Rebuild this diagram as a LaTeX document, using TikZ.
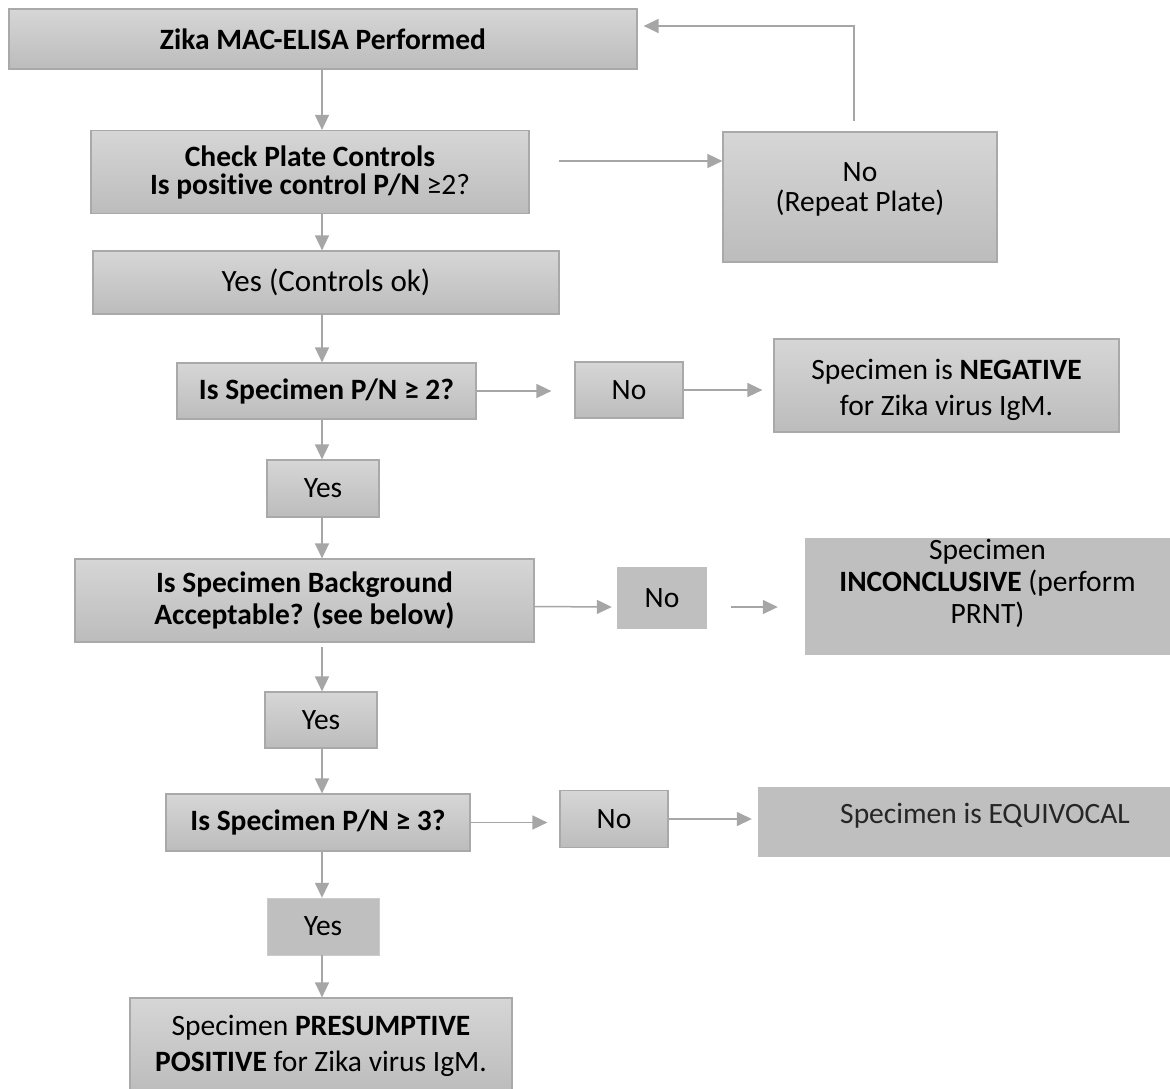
\documentclass[tikz,border=0pt]{standalone}
\usepackage{fontspec}
\setmainfont{Carlito}[Ligatures=NoCommon]
\usetikzlibrary{arrows.meta}

\definecolor{boxtop}{HTML}{D6D6D6}
\definecolor{boxbot}{HTML}{BCBCBC}
\definecolor{boxline}{HTML}{A9A9A9}
\definecolor{flatgray}{HTML}{BFBFBF}
\definecolor{linkgray}{HTML}{A6A6A6}

\begin{document}
\begin{tikzpicture}[x=1pt, y=-1pt,
    font=\fontsize{29.5}{30}\selectfont,
    gbox/.style={draw=boxline, line width=1.2pt, top color=boxtop, bottom color=boxbot, inner sep=0pt, align=center},
    fbox/.style={fill=flatgray, inner sep=0pt, align=center},
    plain/.style={inner sep=0pt, align=center},
    flow/.style={draw=linkgray, line width=1.5pt, -{Triangle[length=15pt, width=14pt]}}]
    \useasboundingbox (0,0) rectangle (1170,1088);
    \coordinate (col) at (322,0);

    % main column
    \node[gbox, minimum width=628pt, minimum height=60pt] (A1) at (323,39) {\textbf{Zika MAC-ELISA Performed}};
    \node[gbox, minimum width=438pt, minimum height=83pt] (A2) at (310,172) {\textbf{Check Plate Controls}\\[-2pt]\textbf{Is positive control P/N} ≥2?};
    \node[gbox, minimum width=466pt, minimum height=63pt, font=\fontsize{31}{32}\selectfont] (okay) at (326,282.5) {Yes (Controls ok)};
    \node[gbox, minimum width=299pt, minimum height=56pt] (Q1) at (326.5,391) {\textbf{Is Specimen P/N ≥ 2?}};
    \node[gbox, minimum width=112pt, minimum height=57pt] (yes1) at (323,488.5) {Yes};
    \node[gbox, minimum width=459pt, minimum height=83pt] (Q2) at (304.5,600.5) {\textbf{Is Specimen Background}\\[2pt]\textbf{Acceptable? (see below)}};
    \node[gbox, minimum width=112pt, minimum height=56pt] (yes2) at (321,720) {Yes};
    \node[gbox, minimum width=304pt, minimum height=57pt] (Q3) at (318,822.5) {\textbf{Is Specimen P/N ≥ 3?}};
    \node[fbox, draw=boxline!60, minimum width=112pt, minimum height=57pt] (yes3) at (323,926.5) {Yes};
    \node[gbox, minimum width=382pt, minimum height=94pt] (final) at (321,1045) {};
    \node[plain] (finaltext) at (321,1046) {Specimen \textbf{PRESUMPTIVE}\\[6pt]\textbf{POSITIVE} for Zika virus IgM.};

    % side boxes
    \node[gbox, minimum width=274pt, minimum height=130pt] (repeatbox) at (860,197) {};
    \node[plain] (repeattext) at (860,189) {No\\(Repeat Plate)};
    \node[gbox, minimum width=108pt, minimum height=56pt] (no1) at (629,390) {No};
    \node[gbox, minimum width=345pt, minimum height=93pt] (neg) at (946.5,385.5) {};
    \node[plain] (negtext) at (946.5,390) {Specimen is \textbf{NEGATIVE}\\[6pt]for Zika virus IgM.};
    \node[fbox, minimum width=90pt, minimum height=62pt] (no2) at (662,598) {No};
    \node[fbox, minimum width=365pt, minimum height=117pt] (inc) at (987.5,596.5) {};
    \node[plain] (inctext) at (987.5,583) {Specimen\\[2pt]\textbf{INCONCLUSIVE} (perform\\[2pt]PRNT)};
    \node[gbox, minimum width=108pt, minimum height=57pt] (no3) at (614,819) {No};
    \node[fbox, minimum width=412pt, minimum height=70pt] (equiv) at (964,822) {};
    \node[plain, text=black!85] (equivtext) at (985,816) {Specimen is EQUIVOCAL};

    % down the column
    \draw[flow] (A1.south -| col) -- (A2.north -| col);
    \draw[flow] (A2.south -| col) -- (okay.north -| col);
    \draw[flow] (okay.south -| col) -- (Q1.north -| col);
    \draw[flow] (Q1.south -| col) -- (yes1.north -| col);
    \draw[flow] (yes1.south -| col) -- (Q2.north -| col);
    \draw[flow] ([yshift=-4pt]Q2.south -| col) -- (yes2.north -| col);
    \draw[flow] (yes2.south -| col) -- (Q3.north -| col);
    \draw[flow] (Q3.south -| col) -- (yes3.north -| col);
    \draw[flow] (yes3.south -| col) -- (final.north -| col);

    % side branches
    \draw[flow] ([xshift=29pt, yshift=11pt]A2.east) -- ([yshift=11pt]A2.east -| repeatbox.west);
    \draw[flow] ([xshift=-6pt, yshift=10pt]repeatbox.north) |- ([xshift=6pt, yshift=13pt]A1.east);
    \draw[flow] (Q1.east) -- ([xshift=-23pt]Q1.east -| no1.west);
    \draw[flow] (no1.east) -- ([xshift=-11pt]no1.east -| neg.west);
    \draw[flow] ([yshift=-6pt]Q2.east) -- ([xshift=-5pt, yshift=-9pt]no2.west);
    \draw[flow] ([xshift=24pt, yshift=-9pt]no2.east) -- ([xshift=-27pt, yshift=-10.5pt]inc.west);
    \draw[flow] (Q3.east) -- ([xshift=-12pt]Q3.east -| no3.west);
    \draw[flow] (no3.east) -- ([xshift=-6pt]no3.east -| equiv.west);
\end{tikzpicture}
\end{document}
